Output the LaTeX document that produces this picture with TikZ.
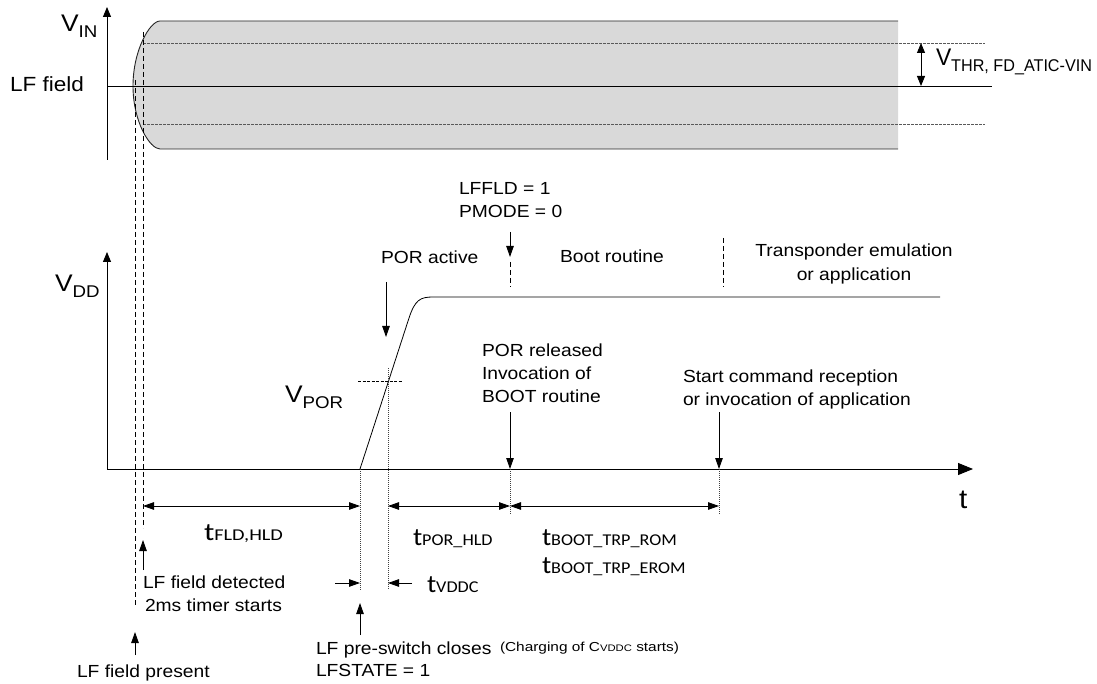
\documentclass[tikz,border=0pt]{standalone}
\usepackage{fontspec}
\usepackage{graphicx}
\setmainfont{Liberation Sans}[FakeStretch=1.1]
\newfontfamily\calfont{Carlito}[FakeStretch=1.1]
\usetikzlibrary{arrows.meta}
\newcommand\fsz[1]{\fontsize{#1}{#1}\selectfont}
\newcommand\Vlab[1]{{\fsz{24}V}\raisebox{-6pt}{\fsz{17}#1}}
\newcommand\tlab[1]{{\calfont\fsz{25}t}{\calfont\fsz{16.5}#1}}
\definecolor{bandgray}{HTML}{D9D9D9}
\begin{document}
\begin{tikzpicture}[x=1pt,y=-1pt,inner sep=0pt,outer sep=0pt,line width=0.9pt,
  tip/.style={-{Triangle[length=11pt,width=7.5pt]}},
  dtip/.style={{Triangle[length=11pt,width=7.5pt]}-{Triangle[length=11pt,width=7.5pt]}},
  axtip/.style={-{Triangle[length=10pt,width=8pt]}},
  taxtip/.style={-{Triangle[length=15pt,width=12pt]}},
  lbl/.style={anchor=base west,font=\fsz{17.5}},
  dashv/.style={dash pattern=on 5pt off 3pt,line width=0.8pt},
  fined/.style={dash pattern=on 2.5pt off 1.5pt,line width=0.7pt,black!65},
  dotv/.style={dash pattern=on 1pt off 1pt,line width=0.8pt,black!75}]
\useasboundingbox (0,0) rectangle (1097,684);

% ---------- coordinates ----------
\coordinate (vinB) at (107,160); \coordinate (vinT) at (107,7);
\coordinate (lfL) at (107,86); \coordinate (lfR) at (992,86);
\coordinate (thrT) at (921,43); \coordinate (thrB) at (921,86);
\coordinate (dh1L) at (143,43); \coordinate (dh1R) at (985,43);
\coordinate (dh2L) at (143,124); \coordinate (dh2R) at (985,124);
\coordinate (dv1T) at (135,80); \coordinate (dv1B) at (135,607);
\coordinate (dv2T) at (143,32); \coordinate (dv2B) at (143,528);
\coordinate (org) at (107,469); \coordinate (vddT) at (107,252); \coordinate (tR) at (973,469);
\coordinate (c0) at (360,469); \coordinate (c1) at (409,318); \coordinate (c2) at (433,297); \coordinate (c3) at (940,297);
\coordinate (porL) at (358,381); \coordinate (porR) at (402,381);
\coordinate (dA1) at (388,368); \coordinate (dA2) at (388,590);
\coordinate (dB2) at (360,590);
\coordinate (dC1) at (510,469); \coordinate (dC2) at (510,515);
\coordinate (dD1) at (719,469); \coordinate (dD2) at (719,515);
\coordinate (paT) at (386,282); \coordinate (paB) at (386,337);
\coordinate (lfdT) at (510,232); \coordinate (lfdB) at (510,257);
\coordinate (lfdd1) at (510,262); \coordinate (lfdd2) at (510,287);
\coordinate (trd1) at (723,238); \coordinate (trd2) at (723,287);
\coordinate (prT) at (510,412);
\coordinate (scT) at (719,412);
\coordinate (m1) at (143,506); \coordinate (m2) at (360,506); \coordinate (m3) at (388,506);
\coordinate (m4) at (510,506); \coordinate (m5) at (719,506);
\coordinate (vd1) at (335,583); \coordinate (vd2) at (360,583);
\coordinate (vd3) at (412,583); \coordinate (vd4) at (388,583);
\coordinate (psB) at (360,635); \coordinate (psT) at (360,603);
\coordinate (fdB) at (143,570); \coordinate (fdT) at (143,540);
\coordinate (fpB) at (135,655); \coordinate (fpT) at (135,632);

% ---------- LF field band ----------
\fill[bandgray] (160,21) -- (898,21) -- (898,149) -- (160,149)
  .. controls (150,149) and (133,122) .. (133,86)
  .. controls (133,50) and (150,21) .. (160,21);
\draw[black!85] (898,21) -- (160,21) .. controls (150,21) and (133,50) .. (133,86)
  .. controls (133,122) and (150,149) .. (160,149) -- (898,149);
\draw[fined] (dh1L) -- (dh1R);
\draw[fined] (dh2L) -- (dh2R);
\draw (lfL) -- (lfR);
\draw[axtip] (vinB) -- (vinT);
\draw[{Triangle[length=10pt,width=8pt]}-{Triangle[length=10pt,width=8pt]}] (thrT) -- (thrB);

% ---------- vertical dashed markers ----------
\draw[dashv] (dv1T) -- (dv1B);
\draw[dashv] (dv2T) -- (dv2B);

% ---------- VDD plot ----------
\draw[axtip] (org) -- (vddT);
\draw[taxtip] (org) -- (tR);
\draw[line width=0.8pt] (c0) -- (c1) .. controls (415,300) and (420,297) .. (c2) -- (c3);
\draw[dash pattern=on 3pt off 1.5pt,line width=0.7pt] (porL) -- (porR);
\draw[dotv] (dA1) -- (dA2);
\draw[dotv] (c0) -- (dB2);
\draw[dotv] (dC1) -- (dC2);
\draw[dotv] (dD1) -- (dD2);

% ---------- event arrows ----------
\draw[tip] (paT) -- (paB);
\draw[tip] (lfdT) -- (lfdB);
\draw[dashv] (lfdd1) -- (lfdd2);
\draw[dashv] (trd1) -- (trd2);
\draw[tip] (prT) -- (dC1);
\draw[tip] (scT) -- (dD1);
\draw[dtip] (m1) -- (m2);
\draw[dtip] (m3) -- (m4);
\draw[dtip] (m4) -- (m5);
\draw[tip] (vd1) -- (vd2);
\draw[tip] (vd3) -- (vd4);
\draw[tip] (psB) -- (psT);
\draw[tip] (fdB) -- (fdT);
\draw[tip] (fpB) -- (fpT);

% ---------- labels ----------
\node[anchor=base west] (vin) at (61,32) {\Vlab{IN}};
\node[anchor=base west,font=\fsz{20.5}] (lff) at (10,92) {LF field};
\node[anchor=base west] (vthr) at (936,66) {\resizebox{156pt}{\height}{{\fsz{24}V}\raisebox{-6pt}{\fsz{17}THR, FD\_ATIC-VIN}}};
\node[anchor=base west] (vdd) at (55,292) {\Vlab{DD}};
\node[anchor=base west] (vpor) at (285,402) {\Vlab{POR}};
\node[lbl] (pora) at (381,264) {POR active};
\node[lbl] (lffld) at (459,195) {LFFLD = 1};
\node[lbl] (pmode) at (459,218) {PMODE = 0};
\node[lbl] (boot) at (560,263) {Boot routine};
\node[anchor=base,font=\fsz{17.5}] (trans1) at (854,257) {Transponder emulation};
\node[anchor=base,font=\fsz{17.5}] (trans2) at (854,281) {or application};
\node[lbl] (porr1) at (482,356) {POR released};
\node[lbl] (porr2) at (482,379) {Invocation of};
\node[lbl] (porr3) at (482,402) {BOOT routine};
\node[lbl] (sc1) at (683,382) {Start command reception};
\node[lbl] (sc2) at (683,405) {or invocation of application};
\node[anchor=base west,font=\fsz{27}] (tlbl) at (959,508) {t};
\node[anchor=base west] (tfld) at (204,540) {\resizebox{79pt}{\height}{\tlab{FLD,HLD}}};
\node[anchor=base west] (tpor) at (413,545) {\tlab{POR\_HLD}};
\node[anchor=base west] (tbr) at (542,545) {\tlab{BOOT\_TRP\_ROM}};
\node[anchor=base west] (tbe) at (542,573) {\tlab{BOOT\_TRP\_EROM}};
\node[anchor=base west] (tvddc) at (427,592) {\tlab{VDDC}};
\node[lbl] (fd1) at (143,588) {LF field detected};
\node[lbl] (fd2) at (145,611) {2ms timer starts};
\node[lbl] (fp) at (77,677) {LF field present};
\node[lbl] (ps1) at (316,654) {LF pre-switch closes};
\node[anchor=base west] (chg) at (500,651) {\resizebox{179pt}{\height}{\fsz{13}(Charging of C{\fsz{9.5}VDDC} starts)}};
\node[lbl] (ps2) at (316,676) {LFSTATE = 1};
\end{tikzpicture}
\end{document}
